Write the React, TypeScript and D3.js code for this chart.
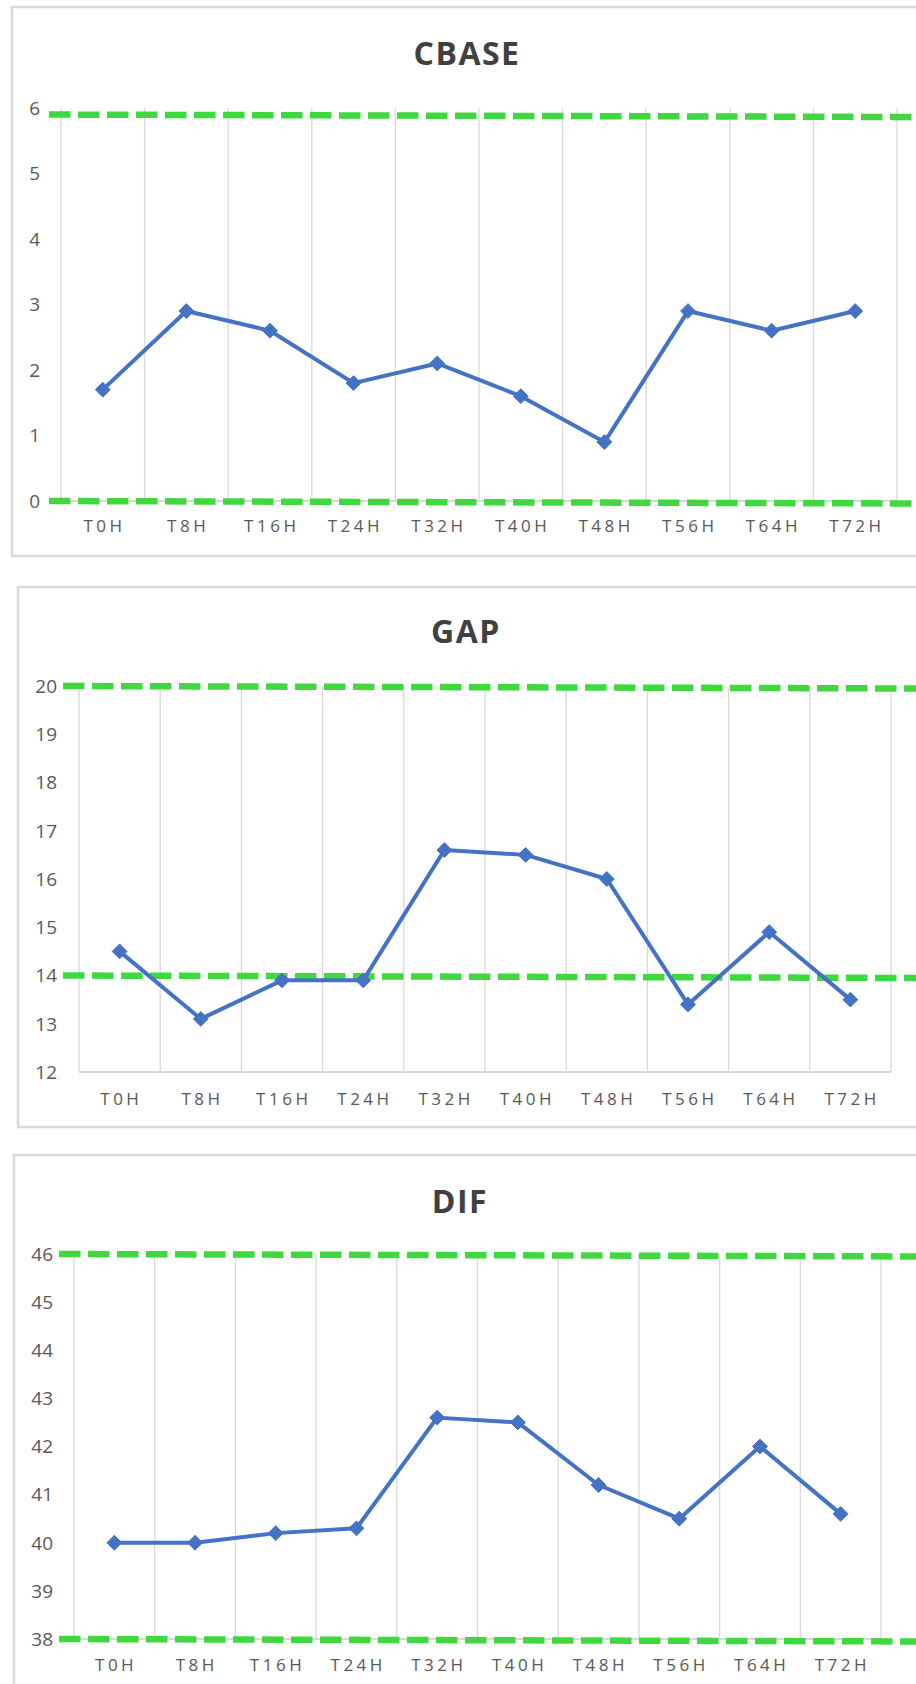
import React from "react";
import * as d3 from "d3";

const categories = ["T0H", "T8H", "T16H", "T24H", "T32H", "T40H", "T48H", "T56H", "T64H", "T72H"];

const cbaseValues = [1.7, 2.9, 2.6, 1.8, 2.1, 1.6, 0.9, 2.9, 2.6, 2.9];
const gapValues = [14.5, 13.1, 13.9, 13.9, 16.6, 16.5, 16.0, 13.4, 14.9, 13.5];
const difValues = [40.0, 40.0, 40.2, 40.3, 42.6, 42.5, 41.2, 40.5, 42.0, 40.6];

const cbaseTicks = [0, 1, 2, 3, 4, 5, 6];
const gapTicks = [12, 13, 14, 15, 16, 17, 18, 19, 20];
const difTicks = [38, 39, 40, 41, 42, 43, 44, 45, 46];

const cbaseLimits = [0, 5.9];
const gapLimits = [14, 20];
const difLimits = [38, 46];

const titles = ["CBASE", "GAP", "DIF"];

type Layout = {
  frameX: number; frameY: number; frameH: number;
  left: number; right: number; top: number; bottom: number;
  labelRight: number; xLabelY: number; titleX: number; titleY: number; greenStart: number;
};

const layouts: Layout[] = [
  { frameX: 12, frameY: 7, frameH: 549, left: 61, right: 897, top: 108, bottom: 501, labelRight: 40, xLabelY: 526, titleX: 467, titleY: 53, greenStart: 49 },
  { frameX: 18, frameY: 587, frameH: 540, left: 79, right: 891, top: 686, bottom: 1072, labelRight: 57, xLabelY: 1099, titleX: 466, titleY: 631, greenStart: 63 },
  { frameX: 14, frameY: 1155, frameH: 620, left: 74, right: 881, top: 1254, bottom: 1639, labelRight: 53, xLabelY: 1665, titleX: 460, titleY: 1201, greenStart: 59 },
];

const panels = [
  { title: titles[0], values: cbaseValues, ticks: cbaseTicks, limits: cbaseLimits },
  { title: titles[1], values: gapValues, ticks: gapTicks, limits: gapLimits },
  { title: titles[2], values: difValues, ticks: difTicks, limits: difLimits },
];

const FONT = "'Open Sans', 'DejaVu Sans', sans-serif";
const BLUE = "#4472C4";
const GREEN = "#3fd93f";
const GRID = "#d9d9d9";
const TEXT = "#595959";

function Panel({ p, L }: { p: typeof panels[number]; L: Layout }) {
  const x = d3.scaleBand<string>().domain(categories).range([L.left, L.right]).paddingInner(0).paddingOuter(0);
  const y = d3.scaleLinear().domain([p.ticks[0], p.ticks[p.ticks.length - 1]]).range([L.bottom, L.top]);
  const bw = x.bandwidth();
  const line = d3.line<number>().x((_, i) => (x(categories[i]) as number) + bw / 2).y((d) => y(d));
  const boundaries = categories.map((c) => x(c) as number).concat([L.right]);
  const diamond = d3.symbol().type(d3.symbolDiamond2).size(140)();
  return (
    <g>
      <rect x={L.frameX} y={L.frameY} width={1000} height={L.frameH} fill="#fff" stroke={GRID} strokeWidth={2.5} />
      <text x={L.titleX} y={L.titleY} textAnchor="middle" dy="0.36em" fontFamily={FONT} fontWeight={700} fontSize={32} fill="#404040" letterSpacing={1.5}>
        {p.title}
      </text>
      {boundaries.map((bx, i) => (
        <line key={"g" + i} x1={bx} x2={bx} y1={L.top} y2={L.bottom} stroke={GRID} strokeWidth={1.3} />
      ))}
      <line x1={L.left} x2={L.right} y1={L.bottom} y2={L.bottom} stroke={GRID} strokeWidth={1.8} />
      {p.ticks.map((t) => (
        <text key={"t" + t} x={L.labelRight} y={y(t)} dy="0.36em" textAnchor="end" fontFamily={FONT} fontSize={19} fill={TEXT}>
          {t}
        </text>
      ))}
      {categories.map((c) => (
        <text key={"c" + c} x={(x(c) as number) + bw / 2 + 1.75} y={L.xLabelY} dy="0.36em" textAnchor="middle" fontFamily={FONT} fontSize={17} letterSpacing={3.5} fill={TEXT}>
          {c}
        </text>
      ))}
      {p.limits.map((v, i) => (
        <line key={"l" + i} x1={L.greenStart} x2={916} y1={y(v)} y2={y(v) + 2.5} stroke={GREEN} strokeWidth={6.5} strokeDasharray="21.5 7.5" />
      ))}
      <path d={line(p.values) || ""} fill="none" stroke={BLUE} strokeWidth={4} strokeLinejoin="round" />
      {p.values.map((v, i) => (
        <path key={"m" + i} d={diamond || ""} transform={`translate(${(x(categories[i]) as number) + bw / 2},${y(v)})`} fill={BLUE} stroke={BLUE} strokeWidth={1} />
      ))}
    </g>
  );
}

export default function App() {
  return (
    <svg width={916} height={1684} style={{ position: "absolute", left: 0, top: 0, background: "#fff" }}>
      <rect x={0} y={0} width={916} height={1684} fill="#fff" />
      {panels.map((p, i) => (
        <Panel key={p.title} p={p} L={layouts[i]} />
      ))}
    </svg>
  );
}
